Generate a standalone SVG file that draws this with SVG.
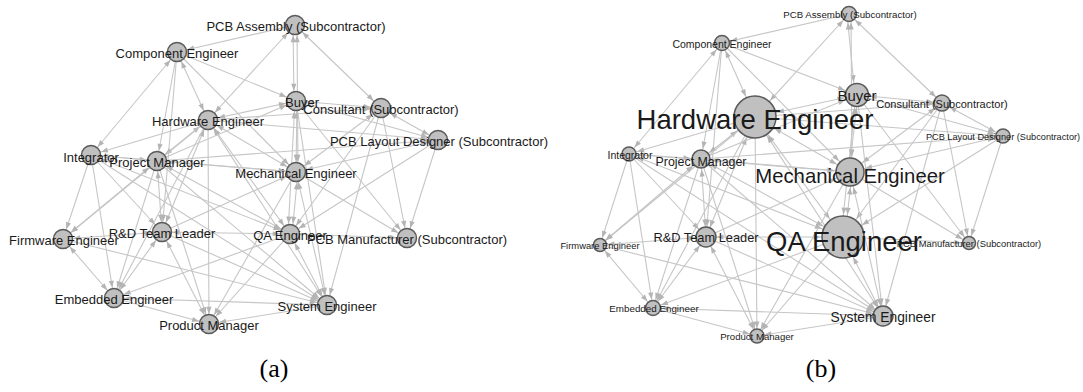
<svg xmlns="http://www.w3.org/2000/svg" width="1083" height="392" viewBox="0 0 1083 392">
  <style>
    text { font-family: "Liberation Sans", Arial, sans-serif; fill: #1a1a1a; text-anchor: middle; }
    text.cap { font-family: "Liberation Serif", "Times New Roman", serif; font-size: 26px; fill: #000; }
    .edges line { stroke: #c6c6c6; stroke-width: 1.1; fill: none; }
    .node circle { fill: #c0c0c0; stroke: #5a5a5a; stroke-width: 1.5; }
    #graph-a .node text { font-size: 13px; }
    /* graph (a): uniform node radius */
    #edges-a .e { marker-end: url(#L); }
    #edges-a .b { marker-start: url(#L); marker-end: url(#L); }
    /* graph (b): arrow offsets follow the radius of the node at each end */
    .s7 { marker-start: url(#R7); } .t7 { marker-end: url(#R7); }
    .s8 { marker-start: url(#R8); } .t8 { marker-end: url(#R8); }
    .s10 { marker-start: url(#R10); } .t10 { marker-end: url(#R10); }
    .s12 { marker-start: url(#R12); } .t12 { marker-end: url(#R12); }
    .s15 { marker-start: url(#R15); } .t15 { marker-end: url(#R15); }
    .s23 { marker-start: url(#R23); } .t23 { marker-end: url(#R23); }
  </style>
  <defs>
    <path id="tip" d="M0,0 L-7,-2.6 L-7,2.6 Z" fill="#b4b4b4"/>
    <marker id="L" markerUnits="userSpaceOnUse" markerWidth="20" markerHeight="20" refX="10.3" refY="0" orient="auto-start-reverse" overflow="visible"><use href="#tip"/></marker>
    <marker id="R7" markerUnits="userSpaceOnUse" markerWidth="20" markerHeight="20" refX="7.5" refY="0" orient="auto-start-reverse" overflow="visible"><use href="#tip"/></marker>
    <marker id="R8" markerUnits="userSpaceOnUse" markerWidth="20" markerHeight="20" refX="8.5" refY="0" orient="auto-start-reverse" overflow="visible"><use href="#tip"/></marker>
    <marker id="R10" markerUnits="userSpaceOnUse" markerWidth="20" markerHeight="20" refX="10.5" refY="0" orient="auto-start-reverse" overflow="visible"><use href="#tip"/></marker>
    <marker id="R12" markerUnits="userSpaceOnUse" markerWidth="20" markerHeight="20" refX="12.8" refY="0" orient="auto-start-reverse" overflow="visible"><use href="#tip"/></marker>
    <marker id="R15" markerUnits="userSpaceOnUse" markerWidth="20" markerHeight="20" refX="15.5" refY="0" orient="auto-start-reverse" overflow="visible"><use href="#tip"/></marker>
    <marker id="R23" markerUnits="userSpaceOnUse" markerWidth="20" markerHeight="20" refX="22.5" refY="0" orient="auto-start-reverse" overflow="visible"><use href="#tip"/></marker>
  </defs>
  <rect width="1083" height="392" fill="#fff"/>

  <!-- ===== graph (a) ===== -->
  <g id="graph-a">
    <g id="edges-a" class="edges">
      <line class="e" x1="295" y1="25" x2="177" y2="52"/>
      <line class="b" x1="295" y1="25" x2="208" y2="120"/>
      <line class="b" x1="293" y1="25" x2="294" y2="101"/>
      <line class="b" x1="297" y1="25" x2="298" y2="172"/>
      <line class="b" x1="295" y1="25" x2="381" y2="108"/>
      <line class="b" x1="177" y1="52" x2="91" y2="155"/>
      <line class="e" x1="177" y1="52" x2="157" y2="161"/>
      <line class="e" x1="177" y1="52" x2="162" y2="232"/>
      <line class="b" x1="177" y1="52" x2="208" y2="120"/>
      <line class="e" x1="177" y1="52" x2="296" y2="101"/>
      <line class="e" x1="177" y1="52" x2="296" y2="172"/>
      <line class="e" x1="208" y1="120" x2="91" y2="155"/>
      <line class="b" x1="208" y1="120" x2="157" y2="161"/>
      <line class="b" x1="208" y1="120" x2="162" y2="232"/>
      <line class="e" x1="208" y1="120" x2="114" y2="298"/>
      <line class="e" x1="208" y1="120" x2="63" y2="239"/>
      <line class="b" x1="208" y1="120" x2="296" y2="172"/>
      <line class="b" x1="208" y1="120" x2="290" y2="234"/>
      <line class="b" x1="208" y1="120" x2="327" y2="305"/>
      <line class="e" x1="208" y1="120" x2="209" y2="324"/>
      <line class="b" x1="208" y1="120" x2="296" y2="101"/>
      <line class="e" x1="208" y1="120" x2="381" y2="108"/>
      <line class="e" x1="208" y1="120" x2="438" y2="140"/>
      <line class="b" x1="91" y1="155" x2="157" y2="161"/>
      <line class="e" x1="91" y1="155" x2="63" y2="239"/>
      <line class="e" x1="91" y1="155" x2="114" y2="298"/>
      <line class="e" x1="91" y1="155" x2="162" y2="232"/>
      <line class="b" x1="91" y1="155" x2="290" y2="234"/>
      <line class="e" x1="91" y1="155" x2="327" y2="305"/>
      <line class="e" x1="91" y1="155" x2="296" y2="172"/>
      <line class="b" x1="157" y1="161" x2="162" y2="232"/>
      <line class="b" x1="157" y1="161" x2="63" y2="239"/>
      <line class="e" x1="157" y1="161" x2="114" y2="298"/>
      <line class="e" x1="157" y1="161" x2="209" y2="324"/>
      <line class="b" x1="157" y1="161" x2="290" y2="234"/>
      <line class="b" x1="157" y1="161" x2="296" y2="172"/>
      <line class="e" x1="157" y1="161" x2="327" y2="305"/>
      <line class="e" x1="157" y1="161" x2="296" y2="101"/>
      <line class="e" x1="157" y1="161" x2="438" y2="140"/>
      <line class="b" x1="162" y1="232" x2="63" y2="239"/>
      <line class="b" x1="162" y1="232" x2="290" y2="234"/>
      <line class="b" x1="162" y1="232" x2="114" y2="298"/>
      <line class="b" x1="162" y1="232" x2="209" y2="324"/>
      <line class="e" x1="162" y1="232" x2="327" y2="305"/>
      <line class="e" x1="162" y1="232" x2="296" y2="172"/>
      <line class="b" x1="63" y1="239" x2="114" y2="298"/>
      <line class="e" x1="63" y1="239" x2="327" y2="305"/>
      <line class="e" x1="290" y1="234" x2="114" y2="298"/>
      <line class="b" x1="114" y1="298" x2="327" y2="305"/>
      <line class="e" x1="114" y1="298" x2="209" y2="324"/>
      <line class="e" x1="290" y1="234" x2="209" y2="324"/>
      <line class="e" x1="327" y1="305" x2="209" y2="324"/>
      <line class="e" x1="296" y1="172" x2="209" y2="324"/>
      <line class="b" x1="292" y1="234" x2="298" y2="172"/>
      <line class="b" x1="290" y1="234" x2="327" y2="305"/>
      <line class="e" x1="290" y1="234" x2="407" y2="238"/>
      <line class="b" x1="288" y1="234" x2="295" y2="101"/>
      <line class="e" x1="381" y1="108" x2="290" y2="234"/>
      <line class="e" x1="438" y1="140" x2="290" y2="234"/>
      <line class="b" x1="296" y1="172" x2="297" y2="101"/>
      <line class="b" x1="296" y1="172" x2="381" y2="108"/>
      <line class="b" x1="296" y1="172" x2="438" y2="140"/>
      <line class="e" x1="296" y1="172" x2="407" y2="238"/>
      <line class="b" x1="296" y1="172" x2="327" y2="305"/>
      <line class="b" x1="296" y1="101" x2="381" y2="108"/>
      <line class="e" x1="296" y1="101" x2="438" y2="140"/>
      <line class="e" x1="296" y1="101" x2="407" y2="238"/>
      <line class="e" x1="296" y1="101" x2="327" y2="305"/>
      <line class="b" x1="381" y1="108" x2="438" y2="140"/>
      <line class="e" x1="381" y1="108" x2="327" y2="305"/>
      <line class="e" x1="381" y1="108" x2="407" y2="238"/>
      <line class="e" x1="438" y1="140" x2="407" y2="238"/>
    </g>
    <g id="a-pcb-assembly" class="node"><circle cx="295" cy="25" r="9.5"/><text x="296" y="31">PCB Assembly (Subcontractor)</text></g>
    <g id="a-component-engineer" class="node"><circle cx="177" cy="52" r="9.5"/><text x="177" y="58">Component Engineer</text></g>
    <g id="a-hardware-engineer" class="node"><circle cx="208" cy="120" r="9.5"/><text x="208" y="126">Hardware Engineer</text></g>
    <g id="a-integrator" class="node"><circle cx="91" cy="155" r="9.5"/><text x="91" y="162">Integrator</text></g>
    <g id="a-project-manager" class="node"><circle cx="157" cy="161" r="9.5"/><text x="157" y="167">Project Manager</text></g>
    <g id="a-buyer" class="node"><circle cx="296" cy="101" r="9.5"/><text x="302" y="107">Buyer</text></g>
    <g id="a-consultant" class="node"><circle cx="381" cy="108" r="9.5"/><text x="381" y="114">Consultant (Subcontractor)</text></g>
    <g id="a-pcb-layout-designer" class="node"><circle cx="438" cy="140" r="9.5"/><text x="439" y="146">PCB Layout Designer (Subcontractor)</text></g>
    <g id="a-mechanical-engineer" class="node"><circle cx="296" cy="172" r="9.5"/><text x="296" y="178">Mechanical Engineer</text></g>
    <g id="a-firmware-engineer" class="node"><circle cx="63" cy="239" r="9.5"/><text x="64" y="245">Firmware Engineer</text></g>
    <g id="a-rd-team-leader" class="node"><circle cx="162" cy="232" r="9.5"/><text x="162" y="238">R&amp;D Team Leader</text></g>
    <g id="a-qa-engineer" class="node"><circle cx="290" cy="234" r="9.5"/><text x="290" y="240">QA Engineer</text></g>
    <g id="a-pcb-manufacturer" class="node"><circle cx="407" cy="238" r="9.5"/><text x="407" y="244">PCB Manufacturer (Subcontractor)</text></g>
    <g id="a-embedded-engineer" class="node"><circle cx="114" cy="298" r="9.5"/><text x="114" y="304">Embedded Engineer</text></g>
    <g id="a-product-manager" class="node"><circle cx="209" cy="324" r="9.5"/><text x="209" y="330">Product Manager</text></g>
    <g id="a-system-engineer" class="node"><circle cx="327" cy="305" r="9.5"/><text x="327" y="311">System Engineer</text></g>
  </g>

  <!-- ===== graph (b): node size and label size scale with centrality ===== -->
  <g id="graph-b">
    <g id="edges-b" class="edges">
      <line class="t8" x1="849" y1="14" x2="722" y2="43"/>
      <line class="s8 t23" x1="849" y1="14" x2="755" y2="117"/>
      <line class="s8 t12" x1="847" y1="14" x2="855" y2="95"/>
      <line class="s8 t15" x1="851" y1="14" x2="852" y2="172"/>
      <line class="s8 t8" x1="849" y1="14" x2="942" y2="103"/>
      <line class="s8 t8" x1="722" y1="43" x2="629" y2="154"/>
      <line class="t10" x1="722" y1="43" x2="701" y2="159"/>
      <line class="t10" x1="722" y1="43" x2="706" y2="237"/>
      <line class="s8 t23" x1="722" y1="43" x2="755" y2="117"/>
      <line class="t12" x1="722" y1="43" x2="857" y2="95"/>
      <line class="t15" x1="722" y1="43" x2="850" y2="172"/>
      <line class="t8" x1="755" y1="117" x2="629" y2="154"/>
      <line class="s23 t10" x1="755" y1="117" x2="701" y2="159"/>
      <line class="s23 t10" x1="755" y1="117" x2="706" y2="237"/>
      <line class="t8" x1="755" y1="117" x2="653" y2="308"/>
      <line class="t7" x1="755" y1="117" x2="600" y2="245"/>
      <line class="s23 t15" x1="755" y1="117" x2="850" y2="172"/>
      <line class="s23 t23" x1="755" y1="117" x2="843" y2="237"/>
      <line class="s23 t10" x1="755" y1="117" x2="883" y2="316"/>
      <line class="t7" x1="755" y1="117" x2="757" y2="336"/>
      <line class="s23 t12" x1="755" y1="117" x2="857" y2="95"/>
      <line class="t8" x1="755" y1="117" x2="942" y2="103"/>
      <line class="t8" x1="755" y1="117" x2="1003" y2="136"/>
      <line class="s8 t10" x1="629" y1="154" x2="701" y2="159"/>
      <line class="t7" x1="629" y1="154" x2="600" y2="245"/>
      <line class="t8" x1="629" y1="154" x2="653" y2="308"/>
      <line class="t10" x1="629" y1="154" x2="706" y2="237"/>
      <line class="s8 t23" x1="629" y1="154" x2="843" y2="237"/>
      <line class="t10" x1="629" y1="154" x2="883" y2="316"/>
      <line class="t15" x1="629" y1="154" x2="850" y2="172"/>
      <line class="s10 t10" x1="701" y1="159" x2="706" y2="237"/>
      <line class="s10 t7" x1="701" y1="159" x2="600" y2="245"/>
      <line class="t8" x1="701" y1="159" x2="653" y2="308"/>
      <line class="t7" x1="701" y1="159" x2="757" y2="336"/>
      <line class="s10 t23" x1="701" y1="159" x2="843" y2="237"/>
      <line class="s10 t15" x1="701" y1="159" x2="850" y2="172"/>
      <line class="t10" x1="701" y1="159" x2="883" y2="316"/>
      <line class="t12" x1="701" y1="159" x2="857" y2="95"/>
      <line class="t8" x1="701" y1="159" x2="1003" y2="136"/>
      <line class="s10 t7" x1="706" y1="237" x2="600" y2="245"/>
      <line class="s10 t23" x1="706" y1="237" x2="843" y2="237"/>
      <line class="s10 t8" x1="706" y1="237" x2="653" y2="308"/>
      <line class="s10 t7" x1="706" y1="237" x2="757" y2="336"/>
      <line class="t10" x1="706" y1="237" x2="883" y2="316"/>
      <line class="t15" x1="706" y1="237" x2="850" y2="172"/>
      <line class="s7 t8" x1="600" y1="245" x2="653" y2="308"/>
      <line class="t10" x1="600" y1="245" x2="883" y2="316"/>
      <line class="t8" x1="843" y1="237" x2="653" y2="308"/>
      <line class="s8 t10" x1="653" y1="308" x2="883" y2="316"/>
      <line class="t7" x1="653" y1="308" x2="757" y2="336"/>
      <line class="t7" x1="843" y1="237" x2="757" y2="336"/>
      <line class="t7" x1="883" y1="316" x2="757" y2="336"/>
      <line class="t7" x1="850" y1="172" x2="757" y2="336"/>
      <line class="s23 t15" x1="845" y1="237" x2="852" y2="172"/>
      <line class="s23 t10" x1="843" y1="237" x2="883" y2="316"/>
      <line class="t7" x1="843" y1="237" x2="969" y2="243"/>
      <line class="s23 t12" x1="841" y1="237" x2="856" y2="95"/>
      <line class="t23" x1="942" y1="103" x2="843" y2="237"/>
      <line class="t23" x1="1003" y1="136" x2="843" y2="237"/>
      <line class="s15 t12" x1="849" y1="172" x2="858" y2="95"/>
      <line class="s15 t8" x1="850" y1="172" x2="942" y2="103"/>
      <line class="s15 t8" x1="850" y1="172" x2="1003" y2="136"/>
      <line class="t7" x1="850" y1="172" x2="969" y2="243"/>
      <line class="s15 t10" x1="850" y1="172" x2="883" y2="316"/>
      <line class="s12 t8" x1="857" y1="95" x2="942" y2="103"/>
      <line class="t8" x1="857" y1="95" x2="1003" y2="136"/>
      <line class="t7" x1="857" y1="95" x2="969" y2="243"/>
      <line class="t10" x1="857" y1="95" x2="883" y2="316"/>
      <line class="s8 t8" x1="942" y1="103" x2="1003" y2="136"/>
      <line class="t10" x1="942" y1="103" x2="883" y2="316"/>
      <line class="t7" x1="942" y1="103" x2="969" y2="243"/>
      <line class="t7" x1="1003" y1="136" x2="969" y2="243"/>
    </g>
    <g id="b-pcb-assembly" class="node"><circle cx="849" cy="14" r="7.5"/><text x="850" y="18" font-size="9.7">PCB Assembly (Subcontractor)</text></g>
    <g id="b-component-engineer" class="node"><circle cx="722" cy="43" r="7.5"/><text x="722" y="48" font-size="10.5">Component Engineer</text></g>
    <g id="b-hardware-engineer" class="node"><circle cx="755" cy="117" r="21" stroke-width="3"/><text x="755" y="129" font-size="27.5">Hardware Engineer</text></g>
    <g id="b-integrator" class="node"><circle cx="629" cy="154" r="7"/><text x="630" y="159" font-size="10.5">Integrator</text></g>
    <g id="b-project-manager" class="node"><circle cx="701" cy="159" r="9"/><text x="701" y="166" font-size="12.4">Project Manager</text></g>
    <g id="b-buyer" class="node"><circle cx="857" cy="95" r="11.5" stroke-width="2"/><text x="857" y="101" font-size="15">Buyer</text></g>
    <g id="b-consultant" class="node"><circle cx="942" cy="103" r="8"/><text x="942" y="108" font-size="11">Consultant (Subcontractor)</text></g>
    <g id="b-pcb-layout-designer" class="node"><circle cx="1003" cy="136" r="7"/><text x="1003" y="140" font-size="9.2">PCB Layout Designer (Subcontractor)</text></g>
    <g id="b-mechanical-engineer" class="node"><circle cx="850" cy="172" r="14" stroke-width="2.5"/><text x="850" y="183" font-size="20.3">Mechanical Engineer</text></g>
    <g id="b-firmware-engineer" class="node"><circle cx="600" cy="245" r="6.5"/><text x="600" y="249" font-size="9.4">Firmware Engineer</text></g>
    <g id="b-rd-team-leader" class="node"><circle cx="706" cy="237" r="10"/><text x="706" y="242" font-size="12.8">R&amp;D Team Leader</text></g>
    <g id="b-qa-engineer" class="node"><circle cx="843" cy="237" r="21" stroke-width="3"/><text x="844" y="251" font-size="27.5">QA Engineer</text></g>
    <g id="b-pcb-manufacturer" class="node"><circle cx="969" cy="243" r="6.5"/><text x="969" y="247" font-size="9.4">PCB Manufacturer (Subcontractor)</text></g>
    <g id="b-embedded-engineer" class="node"><circle cx="653" cy="308" r="7.5"/><text x="654" y="312" font-size="9.8">Embedded Engineer</text></g>
    <g id="b-product-manager" class="node"><circle cx="757" cy="336" r="7"/><text x="757" y="340" font-size="9.6">Product Manager</text></g>
    <g id="b-system-engineer" class="node"><circle cx="883" cy="316" r="10"/><text x="883" y="322" font-size="13.8">System Engineer</text></g>
  </g>

  <!-- panel captions -->
  <text class="cap" x="274" y="377">(a)</text>
  <text class="cap" x="821" y="377">(b)</text>
</svg>
